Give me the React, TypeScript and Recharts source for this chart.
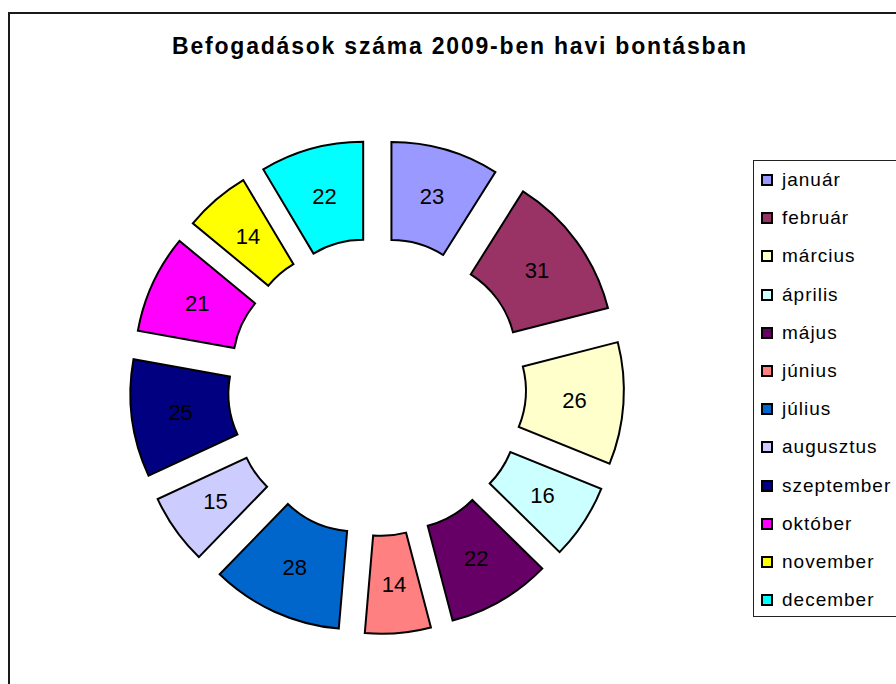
import React from 'react';
import { PieChart, Pie, Sector } from 'recharts';

const months = ['január', 'február', 'március', 'április', 'május', 'június', 'július', 'augusztus', 'szeptember', 'október', 'november', 'december'];
const counts = [23, 31, 26, 16, 22, 14, 28, 15, 25, 21, 14, 22];
const colors = ['#9999FF', '#993366', '#FFFFCC', '#CCFFFF', '#660066', '#FF8080', '#0066CC', '#CCCCFF', '#000080', '#FF00FF', '#FFFF00', '#00FFFF'];
const title = 'Befogadások száma 2009-ben havi bontásban';

const data = months.map((m, i) => ({ name: m, value: counts[i] }));

const CX = 372;
const CY = 382;
const EXPLODE = 52;
const FONT = '"Liberation Sans", Arial, sans-serif';

const renderSlice = (props: any) => {
  const RAD = Math.PI / 180;
  const cx = props.cx ?? CX;
  const cy = props.cy ?? CY;
  const { midAngle, innerRadius, outerRadius, startAngle, endAngle, index, value } = props;
  const ox = cx + EXPLODE * Math.cos(-midAngle * RAD);
  const oy = cy + EXPLODE * Math.sin(-midAngle * RAD);
  const mr = (innerRadius + outerRadius) / 2;
  const lx = ox + mr * Math.cos(-midAngle * RAD);
  const ly = oy + mr * Math.sin(-midAngle * RAD);
  return (
    <g key={`slice-${index}`}>
      <Sector
        cx={ox}
        cy={oy}
        innerRadius={innerRadius}
        outerRadius={outerRadius}
        startAngle={startAngle}
        endAngle={endAngle}
        fill={colors[index]}
        stroke="#000"
        strokeWidth={2}
      />
      <text x={lx} y={ly} textAnchor="middle" dominantBaseline="central" fontFamily={FONT} fontSize={22} fill="#000">
        {value}
      </text>
    </g>
  );
};

export default function App() {
  return (
    <div style={{ position: 'absolute', left: 0, top: 0, width: 896, height: 684, overflow: 'hidden', background: '#fff' }}>
      <div style={{ position: 'absolute', left: 8, top: 12, width: 1000, height: 1000, border: '2px solid #1a1a1a', boxSizing: 'border-box' }} />
      <svg width={896} height={80} style={{ position: 'absolute', left: 0, top: 0 }}>
        <text x={172} y={54} fontFamily={FONT} fontWeight="bold" fontSize={23} textLength={574} lengthAdjust="spacing" fill="#000">
          {title}
        </text>
      </svg>
      <div style={{ position: 'absolute', left: 0, top: 0 }}>
        <PieChart width={896} height={684}>
          <Pie
            data={data}
            dataKey="value"
            nameKey="name"
            cx={CX}
            cy={CY}
            innerRadius={97}
            outerRadius={195}
            startAngle={90}
            endAngle={-270}
            fill="transparent"
            stroke="none"
            label={renderSlice}
            labelLine={false}
            isAnimationActive={false}
          />
        </PieChart>
      </div>
      <div
        style={{
          position: 'absolute',
          left: 753,
          top: 160,
          width: 200,
          height: 457,
          border: '1px solid #222',
          boxSizing: 'border-box',
          background: '#fff',
        }}
      >
        {months.map((m, i) => (
          <div
            key={m}
            style={{
              position: 'absolute',
              left: 7,
              top: 19 + i * 38.2 - 12,
              height: 24,
              display: 'flex',
              alignItems: 'center',
              fontFamily: FONT,
              fontSize: 19,
              letterSpacing: 1,
              whiteSpace: 'nowrap',
              color: '#000',
            }}
          >
            <span style={{ display: 'inline-block', width: 12, height: 12, background: colors[i], border: '2px solid #000', boxSizing: 'border-box', marginRight: 9 }} />
            <span>{m}</span>
          </div>
        ))}
      </div>
    </div>
  );
}
